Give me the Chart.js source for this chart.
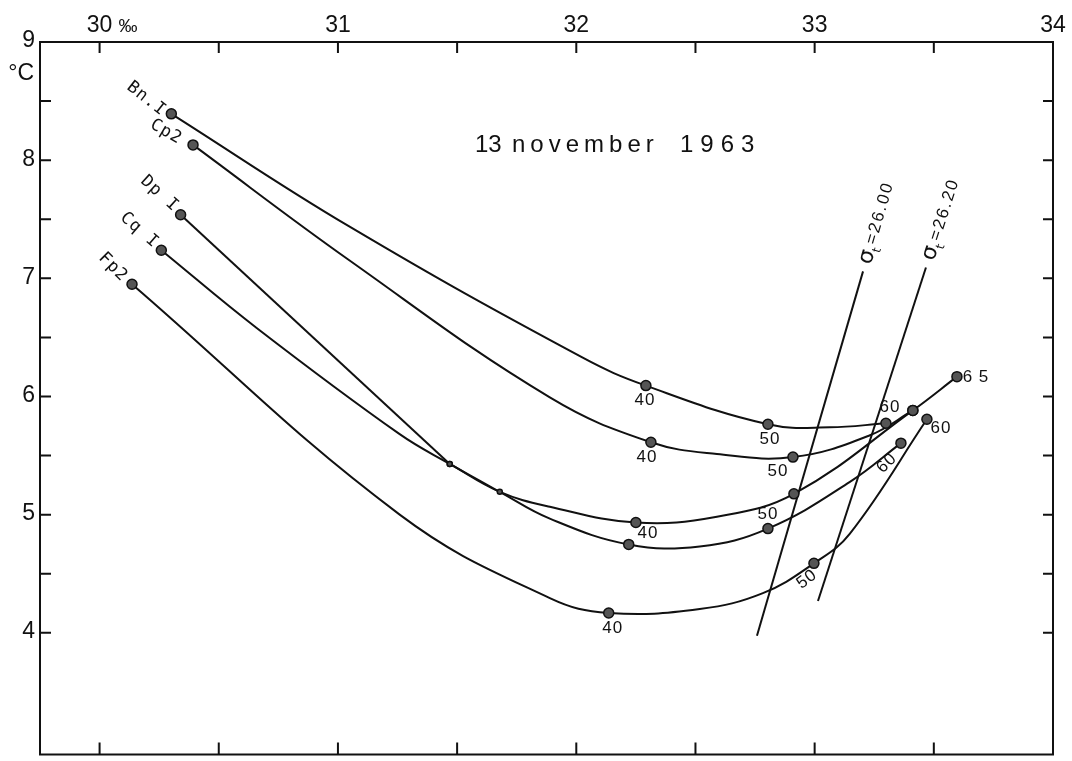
<!DOCTYPE html>
<html>
<head>
<meta charset="utf-8">
<title>13 november 1963</title>
<script src="https://cdn.jsdelivr.net/npm/chart.js@4.4.1/dist/chart.umd.min.js"></script>
<style>
  html, body { margin: 0; padding: 0; background: #fff; }
  .chart-box { width: 1072px; height: 761px; }
</style>
</head>
<body>
<div class="chart-box"><canvas id="tsChart"></canvas></div>
<script>
// T-S diagram, salinity in per mille, temperature in deg C
const salTicks = [30, 30.5, 31, 31.5, 32, 32.5, 33, 33.5];
const salLabels = [30, 31, 32, 33, 34];
const tempTicks = [4, 4.5, 5, 5.5, 6, 6.5, 7, 7.5, 8, 8.5];
const tempLabels = [4, 5, 6, 7, 8, 9];

const stationNames = ['Bn.I', 'Cp2', 'Dp I', 'Cq I', 'Fp2'];

// depth: number = sampled depth (m), null = only a point on the curve, 'join' = small dot
const bnSal   = [30.301, 31.049, 32.027, 32.292, 32.804, 33.064, 33.299];
const bnTemp  = [8.392, 7.437, 6.328, 6.092, 5.765, 5.739, 5.773];
const bnDepth = [0, null, null, 40, 50, null, 60];

const cpSal   = [30.392, 31.049, 31.889, 32.313, 32.590, 32.909, 33.232, 33.412];
const cpTemp  = [8.129, 7.151, 5.992, 5.613, 5.513, 5.487, 5.672, 5.882];
const cpDepth = [0, null, null, 40, null, 50, null, 60];

// first part of Dp I is a straight line down to where it meets Cq I
const dpSal   = [30.340, 31.469, 31.679, 31.889, 32.250, 32.590, 32.913, 33.412, 33.597];
const dpTemp  = [7.538, 5.429, 5.193, 5.067, 4.933, 4.983, 5.176, 5.882, 6.168];
const dpDepth = [0, 'join', 'join', null, 40, null, 50, 60, 65];

const cqSal   = [30.259, 30.659, 31.259, 31.469, 31.679, 31.889, 32.220, 32.518, 32.804, 33.148, 33.362];
const cqTemp  = [7.238, 6.580, 5.681, 5.429, 5.193, 4.966, 4.748, 4.731, 4.882, 5.277, 5.605];
const cqDepth = [0, null, null, null, null, null, 40, null, 50, null, 60];

const fpSal   = [30.136, 31.259, 31.889, 32.136, 32.518, 32.783, 32.997, 33.148, 33.471];
const fpTemp  = [6.950, 5.000, 4.294, 4.168, 4.202, 4.336, 4.588, 4.840, 5.807];
const fpDepth = [0, null, null, 40, null, null, 50, null, 60];

// isopycnals sigma-t = 26.00 and 26.20
const sigmaValues = ['26.00', '26.20'];
const sigmaASal  = [32.758, 33.203];
const sigmaATemp = [3.975, 7.059];
const sigmaBSal  = [33.014, 33.467];
const sigmaBTemp = [4.269, 7.092];

const ink = '#111';
const allSal = [bnSal, cpSal, dpSal, cqSal, fpSal];
const allTemp = [bnTemp, cpTemp, dpTemp, cqTemp, fpTemp];
const allDepth = [bnDepth, cpDepth, dpDepth, cqDepth, fpDepth];

function toPoints(xs, ys) {
    return xs.map((v, i) => ({ x: v, y: ys[i] }));
}

function stationSet(name, xs, ys, depths, tension) {
    return {
        label: name,
        data: toPoints(xs, ys),
        borderColor: ink,
        borderWidth: 2,
        tension: tension,
        pointRadius: depths.map(d => d === null ? 0 : (d === 'join' ? 2.5 : 5)),
        pointBackgroundColor: '#555',
        pointBorderColor: ink,
        pointBorderWidth: 1.5
    };
}

function sigmaSet(name, xs, ys) {
    return {
        label: name,
        data: toPoints(xs, ys),
        borderColor: ink,
        borderWidth: 2,
        tension: 0,
        pointRadius: 0
    };
}

const datasets = [
    stationSet(stationNames[0], bnSal, bnTemp, bnDepth, 0.4),
    stationSet(stationNames[1], cpSal, cpTemp, cpDepth, 0.4),
    stationSet(stationNames[2], dpSal.slice(0, 2), dpTemp.slice(0, 2), dpDepth.slice(0, 2), 0),
    stationSet(stationNames[2] + ' deep', dpSal.slice(1), dpTemp.slice(1), dpDepth.slice(1), 0.4),
    stationSet(stationNames[3], cqSal, cqTemp, cqDepth, 0.4),
    stationSet(stationNames[4], fpSal, fpTemp, fpDepth, 0.4),
    sigmaSet('sigma ' + sigmaValues[0], sigmaASal, sigmaATemp),
    sigmaSet('sigma ' + sigmaValues[1], sigmaBSal, sigmaBTemp)
];

// where the written depth numbers sit: [station, point, dx, dy, angle in degrees]
const depthNotes = [
    [0, 3, -1, 15, 0], [0, 4, 2, 15, 0], [0, 6, 4, -16, 0],
    [1, 3, -4, 15, 0], [1, 5, -15, 14, 0],
    [2, 4, 12, 11, 0], [2, 8, 19, 1, 0],
    [3, 8, 0, -14, 0], [3, 10, -14, 20, -45],
    [4, 3, 4, 15, 0], [4, 6, -7, 16, -37], [4, 8, 14, 9, 0]
];
// station name placement relative to the surface point: [dx, dy, angle]
const nameNotes = [[-25, -15, 38], [-27, -13, 30], [-21, -21, 42], [-22, -20, 41], [-19, -17, 45]];

const annotate = {
    id: 'annotate',
    afterDatasetsDraw(chart) {
        const ctx = chart.ctx;
        const { x, y } = chart.scales;
        ctx.save();
        ctx.fillStyle = ink;
        ctx.textAlign = 'center';
        ctx.textBaseline = 'middle';

        // station names
        ctx.font = '17px "DejaVu Sans Mono"';
        ctx.letterSpacing = '1px';
        nameNotes.forEach((n, i) => {
            const px = x.getPixelForValue(allSal[i][0]);
            const py = y.getPixelForValue(allTemp[i][0]);
            ctx.save();
            ctx.translate(px + n[0], py + n[1]);
            ctx.rotate(n[2] * Math.PI / 180);
            ctx.fillText(stationNames[i], 0, 0);
            ctx.restore();
        });

        // depth numbers
        ctx.font = '17px "Liberation Sans"';
        depthNotes.forEach(n => {
            const px = x.getPixelForValue(allSal[n[0]][n[1]]);
            const py = y.getPixelForValue(allTemp[n[0]][n[1]]);
            const txt = String(allDepth[n[0]][n[1]]);
            ctx.save();
            ctx.translate(px + n[2], py + n[3]);
            ctx.rotate(n[4] * Math.PI / 180);
            ctx.fillText(txt === '65' ? '6 5' : txt, 0, 0);
            ctx.restore();
        });
        ctx.letterSpacing = '0px';

        // sigma-t labels along the isopycnals
        [[sigmaASal, sigmaATemp], [sigmaBSal, sigmaBTemp]].forEach((s, k) => {
            const ax = x.getPixelForValue(s[0][0]), ay = y.getPixelForValue(s[1][0]);
            const bx = x.getPixelForValue(s[0][1]), by = y.getPixelForValue(s[1][1]);
            const ang = Math.atan2(by - ay, bx - ax);
            ctx.save();
            ctx.translate(bx + Math.cos(ang) * 8, by + Math.sin(ang) * 8);
            ctx.rotate(ang);
            ctx.textAlign = 'left';
            ctx.textBaseline = 'middle';
            ctx.font = '22px "DejaVu Sans"';
            ctx.fillText('σ', 0, 0);
            let w = ctx.measureText('σ').width;
            ctx.font = '12px "DejaVu Sans"';
            ctx.fillText('t', w, 8);
            w += ctx.measureText('t').width + 2;
            ctx.font = '17px "Liberation Sans"';
            ctx.letterSpacing = '2px';
            ctx.fillText('=' + sigmaValues[k], w, 0);
            ctx.letterSpacing = '0px';
            ctx.restore();
        });

        // title
        ctx.font = '24px "Liberation Sans"';
        ctx.textAlign = 'left';
        ctx.textBaseline = 'alphabetic';
        ctx.fillText('13', 475, 152);
        ctx.letterSpacing = '5px';
        ctx.fillText('november', 512, 152);
        ctx.letterSpacing = '7px';
        ctx.fillText('1963', 680, 152);
        ctx.letterSpacing = '0px';
        ctx.restore();
    }
};

const frame = {
    id: 'frame',
    afterDraw(chart) {
        const { ctx, chartArea: a, scales: { x, y } } = chart;
        ctx.save();
        ctx.strokeStyle = ink;
        ctx.lineWidth = 2;
        ctx.strokeRect(a.left, a.top, a.right - a.left, a.bottom - a.top);
        ctx.beginPath();
        salTicks.forEach(v => {
            const px = x.getPixelForValue(v);
            ctx.moveTo(px, a.top);
            ctx.lineTo(px, a.top + 11);
            ctx.moveTo(px, a.bottom);
            ctx.lineTo(px, a.bottom - 12);
        });
        tempTicks.forEach(v => {
            const py = y.getPixelForValue(v);
            ctx.moveTo(a.left, py);
            ctx.lineTo(a.left + 11, py);
            ctx.moveTo(a.right, py);
            ctx.lineTo(a.right - 10, py);
        });
        ctx.stroke();

        ctx.fillStyle = ink;
        ctx.font = '23px "Liberation Sans"';
        ctx.textAlign = 'center';
        ctx.textBaseline = 'alphabetic';
        salLabels.forEach(v => ctx.fillText(String(v), x.getPixelForValue(v), 32));
        ctx.font = '19px "Liberation Sans"';
        ctx.textAlign = 'left';
        ctx.fillText('‰', x.getPixelForValue(30) + 19, 32);

        ctx.font = '23px "Liberation Sans"';
        ctx.textAlign = 'right';
        ctx.textBaseline = 'middle';
        tempLabels.forEach(v => ctx.fillText(String(v), a.left - 5, y.getPixelForValue(v) - 1));
        ctx.textBaseline = 'alphabetic';
        ctx.fillText('°C', a.left - 6, 80);
        ctx.restore();
    }
};

new Chart(document.getElementById('tsChart'), {
    type: 'line',
    data: { datasets: datasets },
    options: {
        responsive: true,
        maintainAspectRatio: false,
        animation: false,
        layout: { padding: { left: 40, top: 42, right: 19, bottom: 2 } },
        scales: {
            x: { type: 'linear', display: false, min: 29.75, max: 34 },
            y: { type: 'linear', display: false, min: 2.97, max: 9 }
        },
        plugins: {
            legend: { display: false },
            tooltip: { enabled: false }
        }
    },
    plugins: [annotate, frame]
});
</script>
</body>
</html>
